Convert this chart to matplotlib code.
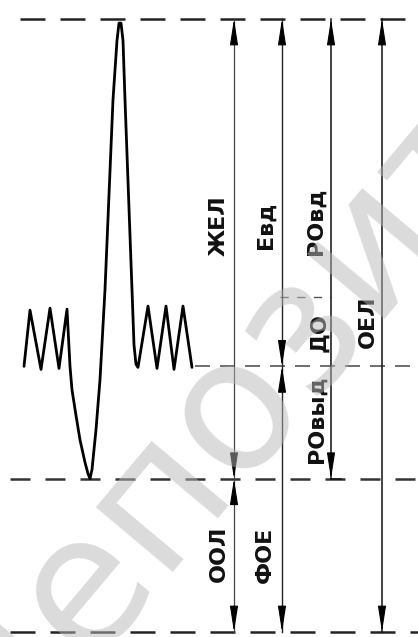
import matplotlib
matplotlib.use("Agg")
import matplotlib.pyplot as plt

# объёмы лёгких, л
oel = 6.0      # ОЕЛ (верхний уровень)
foe = 2.6      # ФОЕ (уровень спокойного выдоха)
do_top = 3.28  # верх ДО
ool = 1.5      # ООЛ (уровень максимального выдоха)

# спирограмма: время (усл. ед.) и объём
t = [24, 30, 41, 50, 59, 67, 70, 72, 76, 80, 85, 88, 90, 92, 96, 100, 105, 113,
     117, 119, 121, 123, 125, 132, 134, 136, 138, 148, 157, 166, 174, 183, 192]
v = [2.60, 3.15, 2.57, 3.17, 2.58, 3.16, 2.60, 2.37, 2.12, 1.88, 1.66, 1.55, 1.50,
     1.59, 1.98, 2.47, 3.35, 5.21, 5.79, 5.96, 5.96, 5.79, 5.21, 3.35, 2.81, 2.62,
     2.59, 3.19, 2.58, 3.19, 2.57, 3.19, 2.59]

# вертикальные шкалы
x_gel, x_evd, x_ro, x_oel = 234, 282, 331, 382

labels = ['ЖЕЛ', 'Евд', 'РОвд', 'ДО', 'РОвыд', 'ОЕЛ', 'ООЛ', 'ФОЕ']
lab_x = [219, 266, 316, 319, 317, 368, 219, 265]
lab_v = [3.98, 3.98, 4.02, 2.93, 2.08, 3.04, 0.77, 0.75]

fig = plt.figure(figsize=(4.18, 6.37), dpi=100)
ax = fig.add_axes([0, 0, 1, 1])
ax.set_xlim(0, 418)
ax.set_ylim(-0.049, 6.186)
ax.axis('off')

# горизонтальные уровни
ax.plot([20, 418], [oel, oel], color='#222', lw=1.8, ls=(0, (10, 6)))
ax.plot([10, 418], [ool, ool], color='#333', lw=1.8, ls=(0, (8, 6)))
ax.plot([10, 418], [0, 0], color='#222', lw=1.8, ls=(0, (10, 6)))
ax.plot([195, 418], [foe, foe], color='#555', lw=1.2, ls=(0, (9, 6)))
ax.plot([280, x_ro], [do_top, do_top], color='#555', lw=1.0, ls=(0, (6, 6)))

# кривая
ax.plot(t, v, color='k', lw=2.0, solid_joinstyle='round', solid_capstyle='round')

# вертикальные линии
ax.plot([x_gel, x_gel], [0, oel], color='#444', lw=0.9)
ax.plot([x_evd, x_evd], [0, oel], color='#222', lw=1.0)
ax.plot([x_ro, x_ro], [ool, oel], color='#111', lw=1.1)
ax.plot([x_oel, x_oel], [0, oel], color='#111', lw=1.1)
ax.plot([x_ro, x_ro + 10], [ool, ool], color='#111', lw=1.1)

def arrow(x, tip, up):
    d = -0.25 if up else 0.25
    ax.annotate('', xy=(x, tip), xytext=(x, tip + d),
                arrowprops=dict(arrowstyle='-|>,head_length=1.6,head_width=0.25',
                                color='k', lw=0.8, shrinkA=0, shrinkB=0))

for x in (x_gel, x_evd, x_ro, x_oel):
    arrow(x, oel, True)
for x in (x_gel, x_evd, x_oel):
    arrow(x, 0, False)
arrow(x_gel, ool, False)
arrow(x_gel, ool, True)
arrow(x_evd, foe, False)
arrow(x_evd, foe, True)
arrow(x_ro, ool, False)

for s, x, y in zip(labels, lab_x, lab_v):
    ax.text(x, y, s, rotation=90, ha='center', va='center',
            fontsize=16, fontweight='bold', color='#111')

# водяной знак
ax.text(222, 2.05, 'депозит', rotation=50, rotation_mode='anchor',
        ha='center', va='center', fontsize=132, color='#b8b8b8',
        alpha=0.5, zorder=10, clip_on=True)

fig.savefig('out.png', dpi=100)
